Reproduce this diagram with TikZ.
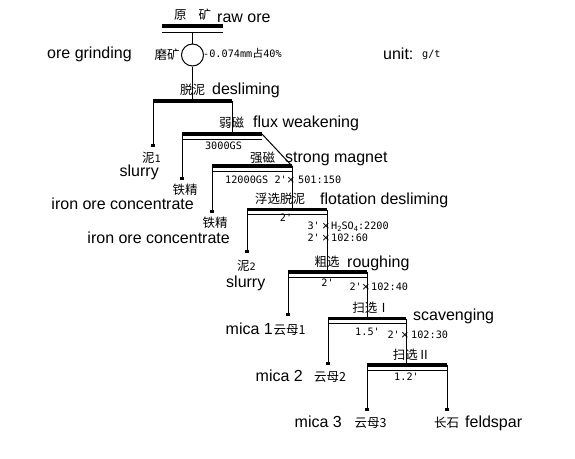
\documentclass[tikz,border=0pt]{standalone}
\usepackage{fontspec}
\setmainfont{Liberation Sans}
\newfontfamily\cjk{Noto Sans CJK SC}
\newfontfamily\mono{DejaVu Sans Mono}
\usetikzlibrary{arrows.meta}
\begin{document}
\begin{tikzpicture}[x=1pt,y=-1pt,
  en/.style={font=\fontsize{16}{16}\selectfont, inner sep=0pt},
  zh/.style={font=\cjk\fontsize{12.5}{12.5}\selectfont, inner sep=0pt},
  num/.style={font=\mono\fontsize{10.2}{10.2}\selectfont, inner sep=0pt},
  crs/.style={font=\fontsize{13}{13}\selectfont, inner sep=0pt},
  thickbar/.style={line width=3.5pt},
  thinbar/.style={line width=1pt},
  feed/.style={line width=1pt},
  prod/.style={line width=1pt,-{Square[length=3.5pt,width=3.5pt]}}]
\fill[white] (0,0) rectangle (575,458);
\useasboundingbox (0,0) rectangle (575,458);

% ---------- raw ore ----------
\coordinate (rawL) at (162,26);
\coordinate (rawR) at (223,26);
\coordinate (rawC) at (192.5,32);
\draw[thickbar] (rawL) -- (rawR);
\draw[thinbar] ([yshift=-6pt]rawL) -- ([yshift=-6pt]rawR);
\node[zh] (rawZ) at (192.5,15) {原\hspace{12pt}矿};
\node[en,anchor=mid west] (rawE) at (217,19.5) {raw ore};

% ---------- grinding ----------
\node[draw,circle,line width=1pt,minimum size=22pt,inner sep=0pt] (grind) at (192.5,55) {};
\node[zh] (grindZ) at (167,55) {磨矿};
\node[num,anchor=mid west] (grindN) at (203,55) {-0.074mm{\cjk\fontsize{11}{11}\selectfont 占}40\%};
\node[en,anchor=mid west] (grindE) at (47,55.5) {ore grinding};
\node[en,anchor=mid west] (unitE) at (383,56.5) {unit:};
\node[num,anchor=mid west] (unitN) at (422,55) {g/t};
\draw[feed] (rawC) -- (grind);

% ---------- desliming ----------
\coordinate (dL) at (153,101);
\coordinate (dR) at (232,101);
\coordinate (dC) at (192.5,101);
\draw[feed] (grind) -- (dC);
\draw[thickbar] (dL) -- (dR);
\node[zh] (dZ) at (192.5,90) {脱泥};
\node[en,anchor=mid west] (dE) at (212,91.5) {desliming};

% ---------- flux weakening ----------
\coordinate (fL) at (182,134);
\coordinate (fR) at (262,134);
\coordinate (fC) at (232,134);
\draw[thickbar] (fL) -- (fR);
\draw[thinbar] ([yshift=-5pt]fL) -- ([yshift=-5pt]fR);
\draw[feed] (dR) -- (fC);
\node[zh] (fZ) at (231.5,123) {弱磁};
\node[en,anchor=mid west] (fE) at (253,124.5) {flux weakening};
\node[num] (fN) at (223.5,146) {3000GS};

% slurry 1
\coordinate (s1) at (153,147);
\draw[prod] (dL) -- (s1);
\node[inner sep=0pt] (s1Z) at (151.5,158) {{\cjk\fontsize{12.5}{12.5}\selectfont 泥}{\mono\fontsize{10.2}{10.2}\selectfont 1}};
\node[en,anchor=mid east] (s1E) at (159,174) {slurry};

% ---------- strong magnet ----------
\coordinate (mL) at (212,166);
\coordinate (mR) at (292,166);
\draw[thickbar] (mL) -- (mR);
\draw[thinbar] ([yshift=-5pt]mL) -- ([yshift=-5pt]mR);
\draw[feed] (fR) -- (mR);
\node[zh] (mZ) at (262.5,158) {强磁};
\node[en,anchor=mid west] (mE) at (285,159.5) {strong magnet};
\node[num,anchor=mid west] (mN1) at (225,181) {12000GS};
\node[num,anchor=mid east] (mN2) at (287,181) {2'};
\node[crs] (mX) at (291,181) {×};
\node[num,anchor=mid west] (mN3) at (298,181) {501:150};

% iron concentrate 1
\coordinate (i1) at (182,180);
\draw[prod] (fL) -- (i1);
\node[zh] (i1Z) at (185,190) {铁精};
\node[en,anchor=mid east] (i1E) at (194,206.5) {iron ore concentrate};

% ---------- flotation desliming ----------
\coordinate (tL) at (247,209.5);
\coordinate (tR) at (327,209.5);
\coordinate (tC) at (292,209.5);
\draw[thickbar] (tL) -- (tR);
\draw[thinbar] ([yshift=-5pt]tL) -- ([yshift=-5pt]tR);
\draw[feed] (mR) -- (tC);
\node[zh] (tZ) at (280,199) {浮选脱泥};
\node[en,anchor=mid west] (tE) at (320,201.5) {flotation desliming};
\node[num] (tN) at (286,218) {2'};
\node[num,anchor=mid east] (tN1) at (320,227) {3'};
\node[crs] (tX1) at (326,227) {×};
\node[num,anchor=mid west] (tN2) at (331,227) {H\raisebox{-1.5pt}{\fontsize{7}{7}\selectfont 2}SO\raisebox{-1.5pt}{\fontsize{7}{7}\selectfont 4}:2200};
\node[num,anchor=mid east] (tN3) at (320,239) {2'};
\node[crs] (tX2) at (326,239) {×};
\node[num,anchor=mid west] (tN4) at (331,239) {102:60};

% iron concentrate 2
\coordinate (i2) at (212,213);
\draw[prod] (mL) -- (i2);
\node[zh] (i2Z) at (215,223) {铁精};
\node[en,anchor=mid east] (i2E) at (230,240.5) {iron ore concentrate};

% slurry 2
\coordinate (s2) at (247,253);
\draw[prod] (tL) -- (s2);
\node[inner sep=0pt] (s2Z) at (246.5,266) {{\cjk\fontsize{12.5}{12.5}\selectfont 泥}{\mono\fontsize{10.2}{10.2}\selectfont 2}};
\node[en,anchor=mid west] (s2E) at (226,284.5) {slurry};

% ---------- roughing ----------
\coordinate (rL) at (288,272);
\coordinate (rR) at (367,272);
\coordinate (rC) at (327,272);
\draw[thickbar] (rL) -- (rR);
\draw[thinbar] ([yshift=-5pt]rL) -- ([yshift=-5pt]rR);
\draw[feed] (tR) -- (rC);
\node[zh] (rZ) at (327,262) {粗选};
\node[en,anchor=mid west] (rE) at (347,264.5) {roughing};
\node[num] (rN) at (327.5,283) {2'};
\node[num,anchor=mid east] (rN1) at (362,288) {2'};
\node[crs] (rX) at (366,288) {×};
\node[num,anchor=mid west] (rN2) at (371,288) {102:40};

% mica 1
\coordinate (c1) at (288,316);
\draw[prod] (rL) -- (c1);
\node[zh] (c1Z) at (289.5,330) {云母1};
\node[en,anchor=mid east] (c1E) at (273,331.5) {mica 1};

% ---------- scavenging I ----------
\coordinate (aL) at (328,318.5);
\coordinate (aR) at (406,318.5);
\draw[thickbar] (aL) -- (aR);
\draw[thinbar] ([yshift=-5pt]aL) -- ([yshift=-5pt]aR);
\draw[feed] (rR) -- (rR |- aL);
\node[zh] (aZ) at (371,308) {扫选Ⅰ};
\node[en,anchor=mid west] (aE) at (413,317.5) {scavenging};
\node[num] (aN) at (367.5,332) {1.5'};
\node[num,anchor=mid east] (aN1) at (400,336) {2'};
\node[crs] (aX) at (405,336) {×};
\node[num,anchor=mid west] (aN2) at (411,336) {102:30};

% mica 2
\coordinate (c2) at (328,365);
\draw[prod] (aL) -- (c2);
\node[zh] (c2Z) at (330,377) {云母2};
\node[en,anchor=mid east] (c2E) at (303,378.5) {mica 2};

% ---------- scavenging II ----------
\coordinate (bL) at (367,365);
\coordinate (bR) at (447,365);
\draw[thickbar] (bL) -- (bR);
\draw[thinbar] ([yshift=-5pt]bL) -- ([yshift=-5pt]bR);
\draw[feed] (aR) -- (aR |- bL);
\node[zh] (bZ) at (411.5,355) {扫选Ⅱ};
\node[num] (bN) at (406.5,377) {1.2'};

% mica 3 and feldspar
\coordinate (c3) at (367,411);
\coordinate (fs) at (447,411);
\draw[prod] (bL) -- (c3);
\draw[prod] (bR) -- (fs);
\node[zh] (c3Z) at (370.5,423) {云母3};
\node[en,anchor=mid east] (c3E) at (342,424.5) {mica 3};
\node[zh] (fsZ) at (446.5,423) {长石};
\node[en,anchor=mid west] (fsE) at (465,424.5) {feldspar};
\end{tikzpicture}
\end{document}
